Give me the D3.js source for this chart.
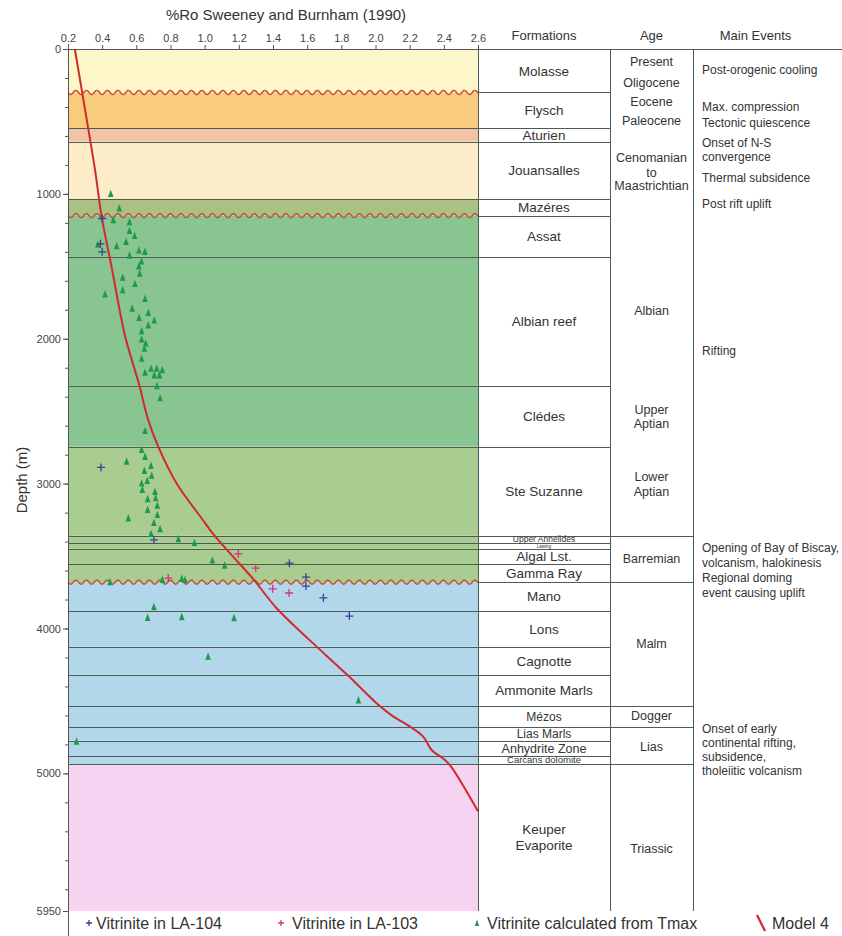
<!DOCTYPE html>
<html>
<head>
<meta charset="utf-8">
<script src="https://cdn.jsdelivr.net/npm/d3@7"></script>
<style>
html,body{margin:0;padding:0;background:#fff;}
svg{display:block;font-family:"Liberation Sans",Arial,sans-serif;}
</style>
</head>
<body>
<svg id="chart" width="842" height="936"></svg>
<script>
// ---------------- DATA ----------------
const xTicks = [0.2,0.4,0.6,0.8,1.0,1.2,1.4,1.6,1.8,2.0,2.2,2.4,2.6];
const yTicks = [0,1000,2000,3000,4000,5000,5950];
const yMinorTicks = d3.range(0, 5950, 200);

const formationNames = ["Molasse","Flysch","Aturien","Jouansalles","Mazéres","Assat","Albian reef","Clédes","Ste Suzanne","Upper Annelides","Lawing","Algal Lst.","Gamma Ray","Mano","Lons","Cagnotte","Ammonite Marls","Mézos","Lias Marls","Anhydrite Zone","Carcans dolomite","Keuper\nEvaporite"];
const formationTop    = [0,300,545,640,1035,1150,1435,2325,2745,3360,3410,3450,3555,3680,3880,4125,4320,4535,4680,4775,4880,4935];
const formationBottom = [300,545,640,1035,1150,1435,2325,2745,3360,3410,3450,3555,3680,3880,4125,4320,4535,4680,4775,4880,4935,5950];
const unconformities = [300,1150,3680];
const ageBoundaries = [3360,3680,4535,4680,4935];

const ageLabels = ["Present","Oligocene","Eocene","Paleocene","Cenomanian","to","Maastrichtian","Albian","Upper","Aptian","Lower","Aptian","Barremian","Malm","Dogger","Lias","Triassic"];
const ageDepths = [83,228,364,495,752,853,944,1808,2485,2588,2954,3057,3520,4106,4603,4817,5521];

const eventLabels = ["Post-orogenic cooling","Max. compression","Tectonic quiescence","Onset of N-S","convergence","Thermal subsidence","Post rift uplift","Rifting","Opening of Bay of Biscay,","volcanism, halokinesis","Regional doming","event causing uplift","Onset of early","continental rifting,","subsidence,","tholeiitic volcanism"];
const eventDepths = [145,398,506,649,743,890,1066,2084,3444,3547,3651,3754,4693,4790,4886,4983];

// Model 4 (%Ro vs depth)
const modelRo    = [0.24,0.30,0.358,0.396,0.458,0.534,0.616,0.668,0.727,0.838,0.985,1.049,1.178,1.283,1.424,1.605,1.833,2.015,2.103,2.191,2.278,2.331,2.396,2.437,2.600];
const modelDepth = [0,420,833,1150,1522,1981,2314,2555,2741,3003,3244,3347,3519,3657,3864,4070,4318,4525,4607,4669,4745,4842,4897,4945,5262];

// Vitrinite calculated from Tmax
const tmaxRo = [0.45,0.50,0.465,0.56,0.56,0.59,0.54,0.375,0.485,0.615,0.65,0.56,0.63,0.615,0.62,0.52,
  0.592,0.520,0.417,0.651,0.576,0.670,0.616,0.705,0.670,0.631,0.631,0.655,0.647,0.631,0.686,0.719,0.752,0.651,0.705,0.735,0.721,0.739,0.651,
  0.631,0.651,0.543,0.686,0.647,0.690,0.664,0.631,0.635,0.709,0.713,0.666,0.723,0.666,0.723,0.553,0.703,0.739,0.686,0.846,0.940,1.045,
  1.117,0.446,0.752,0.866,0.885,0.703,0.666,0.866,1.172,1.02,1.90,0.25];
const tmaxDepth = [1000,1100,1180,1195,1255,1290,1330,1350,1360,1390,1400,1425,1465,1500,1550,1577,
  1621,1664,1694,1724,1791,1821,1855,1873,1908,1947,2004,2032,2068,2137,2206,2206,2216,2234,2252,2252,2326,2410,2636,
  2766,2815,2847,2877,2911,2945,2980,2998,3042,3056,3099,3106,3152,3180,3216,3239,3271,3313,3347,3382,3409,3530,
  3565,3680,3664,3657,3664,3852,3926,3921,3928,4194,4495,4780];

// Vitrinite in LA-104
const la104Ro    = [0.40,0.39,0.40,0.393,0.703,1.496,1.593,1.593,1.695,1.847];
const la104Depth = [1170,1345,1400,2888,3388,3549,3645,3707,3788,3914];
// Vitrinite in LA-103
const la103Ro    = [1.197,1.299,0.787,1.398,1.494];
const la103Depth = [3485,3583,3652,3726,3755];

// ---------------- STYLE ----------------
const formationColors = ["#fcf6c8","#f9cb7c","#f2c4a6","#fcecc8","#abc085","#88c591","#88c591","#88c591","#a9cd90","#a9cd90","#a9cd90","#a9cd90","#a9cd90","#b3d7ea","#b3d7ea","#b3d7ea","#b3d7ea","#b3d7ea","#b3d7ea","#b3d7ea","#b3d7ea","#f6d4f1"];
const formationFont = [13.5,13.5,13.5,13.5,13.5,13.5,13.5,13.5,13.5,8.5,4.5,13.5,13.5,13.5,13.5,13.5,13.5,12,12,12.5,9.5,13.5];
const textColor = "#333";
const lineColor = "#4d5b55";

const svg = d3.select("#chart");
const x = d3.scaleLinear().domain([0.2,2.6]).range([68,478]);
const y = d3.scaleLinear().domain([0,5950]).range([49,911]);
const colF = [478,610], colA = [610,693], colE = [693,842];

// Layers in plot
const gL = svg.append("g");
formationNames.forEach((n,i)=>{
  gL.append("rect").attr("x",x(0.2)).attr("width",x(2.6)-x(0.2))
    .attr("y",y(formationTop[i])).attr("height",y(formationBottom[i])-y(formationTop[i]))
    .attr("fill",formationColors[i]);
});
// wavy unconformities
function wavePts(d){
  const pts=[]; for(let px=x(0.2); px<=x(2.6); px+=0.5){ pts.push([px, y(d)+2*Math.sin((px-x(0.2))/10.5*2*Math.PI)]); }
  return pts;
}
unconformities.forEach(d=>{
  const iAbove = formationBottom.indexOf(d);
  const pts = wavePts(d);
  const poly = [[x(0.2),y(d)-3]].concat(pts).concat([[x(2.6),y(d)-3]]);
  gL.append("path").attr("d",d3.line()(poly)+"Z").attr("fill",formationColors[iAbove]);
  gL.append("path").attr("d",d3.line()(pts)).attr("fill","none").attr("stroke","#c9503a").attr("stroke-width",1.5);
});
// horizontal boundary lines
const boundaries = formationTop.slice(1);
boundaries.forEach(d=>{
  const isUnc = unconformities.includes(d);
  const isAge = ageBoundaries.includes(d);
  const x0 = isUnc ? colF[0] : x(0.2);
  const x1 = isAge ? colA[1] : colF[1];
  svg.append("line").attr("x1",x0).attr("x2",x1).attr("y1",Math.round(y(d))+0.5).attr("y2",Math.round(y(d))+0.5)
    .attr("stroke",lineColor).attr("stroke-width",1);
});
// table vertical lines
[colF[0],colF[1],colA[1]].forEach(cx=>{
  svg.append("line").attr("x1",cx+0.5).attr("x2",cx+0.5).attr("y1",y(0)).attr("y2",y(5950))
    .attr("stroke",lineColor).attr("stroke-width",1);
});
// top border line
svg.append("line").attr("x1",x(0.2)).attr("x2",842).attr("y1",y(0)+0.5).attr("y2",y(0)+0.5).attr("stroke","#555").attr("stroke-width",1);

// Headers
const hdr = [["Formations",(colF[0]+colF[1])/2],["Age",(colA[0]+colA[1])/2],["Main Events",(colE[0]+colE[1])/2-12]];
hdr.forEach(h=>svg.append("text").attr("x",h[1]).attr("y",40).attr("text-anchor","middle").attr("font-size",13).attr("fill",textColor).text(h[0]));

// Formation labels
formationNames.forEach((n,i)=>{
  const lines = n.split("\n");
  const cy = (y(formationTop[i])+y(formationBottom[i]))/2;
  const fs = formationFont[i];
  lines.forEach((ln,j)=>{
    svg.append("text").attr("x",(colF[0]+colF[1])/2).attr("y",cy+(j-(lines.length-1)/2)*16)
      .attr("dy","0.36em").attr("text-anchor","middle").attr("font-size",fs).attr("fill",textColor).text(ln);
  });
});
// Age labels
ageLabels.forEach((a,i)=>{
  svg.append("text").attr("x",(colA[0]+colA[1])/2).attr("y",y(ageDepths[i])).attr("dy","0.36em")
    .attr("text-anchor","middle").attr("font-size",12.5).attr("fill",textColor).text(a);
});
// Events
eventLabels.forEach((e,i)=>{
  svg.append("text").attr("x",colE[0]+9).attr("y",y(eventDepths[i])).attr("dy","0.36em")
    .attr("font-size",12).attr("fill",textColor).text(e);
});

// Axes
const axTop = svg.append("g").attr("transform",`translate(0,${y(0)})`)
  .call(d3.axisTop(x).tickValues(xTicks).tickFormat(d3.format(".1f")).tickSize(4).tickSizeOuter(0));
axTop.select(".domain").remove();
axTop.selectAll("line").attr("stroke","#555");
axTop.selectAll("text").attr("font-size",11).attr("fill","#444").attr("font-family","Liberation Sans, Arial, sans-serif");

const axMinor = svg.append("g").attr("transform",`translate(${x(0.2)},0)`)
  .call(d3.axisLeft(y).tickValues(yMinorTicks).tickSize(3).tickFormat(""));
axMinor.select(".domain").remove();
axMinor.selectAll("line").attr("stroke","#555");
const axLeft = svg.append("g").attr("transform",`translate(${x(0.2)},0)`)
  .call(d3.axisLeft(y).tickValues(yTicks).tickFormat(d3.format("d")).tickSize(5).tickPadding(2).tickSizeOuter(0));
axLeft.select(".domain").remove();
axLeft.selectAll("line").attr("stroke","#555");
axLeft.selectAll("text").attr("font-size",11).attr("fill","#444").attr("font-family","Liberation Sans, Arial, sans-serif");
svg.append("line").attr("x1",x(0.2)+0.5).attr("x2",x(0.2)+0.5).attr("y1",y(0)-5).attr("y2",936).attr("stroke","#555");

// Titles
svg.append("text").attr("x",286).attr("y",20).attr("text-anchor","middle").attr("font-size",15).attr("fill",textColor).text("%Ro Sweeney and Burnham (1990)");
svg.append("text").attr("transform","translate(27,480) rotate(-90)").attr("text-anchor","middle").attr("font-size",15).attr("fill",textColor).text("Depth (m)");

// Model curve
const modelPts = modelRo.map((r,i)=>[x(r),y(modelDepth[i])]);
svg.append("path").attr("d",d3.line().curve(d3.curveCatmullRom)(modelPts))
  .attr("fill","none").attr("stroke","#d12a2e").attr("stroke-width",2);

// Markers
const tri = "M0,-4.2L2.8,3.2L-2.8,3.2Z";
tmaxRo.forEach((r,i)=>{
  svg.append("path").attr("d",tri).attr("transform",`translate(${x(r)},${y(tmaxDepth[i])})`).attr("fill","#1e9a4c");
});
function plus(cx,cy,col,s){
  svg.append("path").attr("d",`M${cx-s},${cy}H${cx+s}M${cx},${cy-s}V${cy+s}`).attr("stroke",col).attr("stroke-width",1.3).attr("fill","none");
}
la104Ro.forEach((r,i)=>plus(x(r),y(la104Depth[i]),"#3c3f93",4));
la103Ro.forEach((r,i)=>plus(x(r),y(la103Depth[i]),"#d8327f",4));

// Legend
const ly = 923;
plus(89,ly,"#3c3f93",3);
svg.append("text").attr("x",96).attr("y",ly).attr("dy","0.36em").attr("font-size",16).attr("fill",textColor).text("Vitrinite in LA-104");
plus(281,ly,"#d8327f",3);
svg.append("text").attr("x",292).attr("y",ly).attr("dy","0.36em").attr("font-size",16).attr("fill",textColor).text("Vitrinite in LA-103");
svg.append("path").attr("d","M0,-3.5L2.2,3L-2.2,3Z").attr("transform",`translate(477,${ly})`).attr("fill","#1e9a4c");
svg.append("text").attr("x",487).attr("y",ly).attr("dy","0.36em").attr("font-size",16).attr("fill",textColor).text("Vitrinite calculated from Tmax");
svg.append("line").attr("x1",757).attr("y1",ly-8).attr("x2",765).attr("y2",ly+8).attr("stroke","#d12a2e").attr("stroke-width",2.2);
svg.append("text").attr("x",772).attr("y",ly).attr("dy","0.36em").attr("font-size",16).attr("fill",textColor).text("Model 4");
</script>
</body>
</html>
